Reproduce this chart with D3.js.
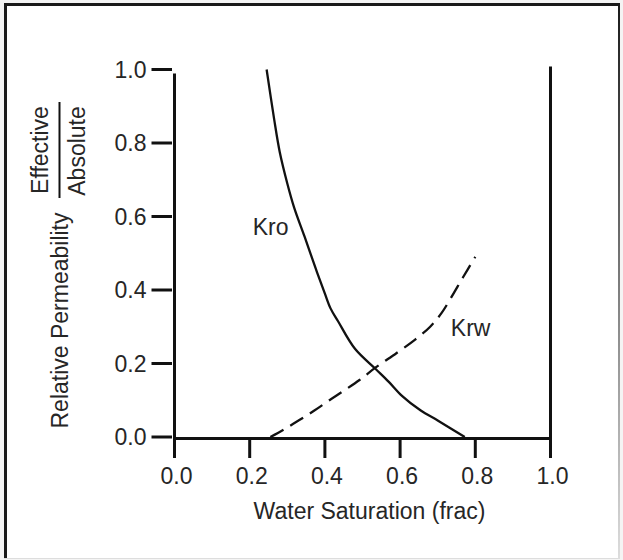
<!DOCTYPE html>
<html>
<head>
<meta charset="utf-8">
<script src="https://cdn.jsdelivr.net/npm/d3@7"></script>
<style>
  html, body { margin: 0; padding: 0; background: #ffffff; }
  svg { display: block; }
  text { font-family: "Liberation Sans", Arial, Helvetica, sans-serif; fill: #262626; }
</style>
</head>
<body>
<svg id="chart" width="623" height="560"></svg>
<script>
// ---- data ----
const xTicks = [0.0, 0.2, 0.4, 0.6, 0.8, 1.0];
const yTicks = [0.0, 0.2, 0.4, 0.6, 0.8, 1.0];
const xTickLabels = ["0.0", "0.2", "0.4", "0.6", "0.8", "1.0"];
const yTickLabels = ["0.0", "0.2", "0.4", "0.6", "0.8", "1.0"];

// Kro (oil relative permeability) – solid
const kroSw = [0.245, 0.265, 0.28, 0.30, 0.318, 0.346, 0.375, 0.40, 0.415, 0.435, 0.48, 0.535, 0.57, 0.605, 0.655, 0.70, 0.772];
const kroK  = [1.00, 0.865, 0.775, 0.69, 0.625, 0.545, 0.46, 0.39, 0.35, 0.315, 0.24, 0.185, 0.15, 0.112, 0.072, 0.045, 0.0];

// Krw (water relative permeability) – dashed
const krwSw = [0.255, 0.29, 0.332, 0.372, 0.412, 0.452, 0.492, 0.536, 0.59, 0.64, 0.68, 0.71, 0.735, 0.767, 0.80];
const krwK  = [0.0, 0.02, 0.046, 0.072, 0.10, 0.127, 0.155, 0.19, 0.228, 0.265, 0.30, 0.337, 0.378, 0.434, 0.49];

const xTitle = "Water Saturation (frac)";
const yTitle = "Relative Permeability";
const fracTop = "Effective";
const fracBottom = "Absolute";
const curveLabels = [
  { name: "Kro", sw: 0.208, k: 0.55 },
  { name: "Krw", sw: 0.735, k: 0.275 }
];

// ---- drawing ----
const svg = d3.select("#chart");
const W = 623, H = 560;
const ink = "#111111";
const fs = 23;

// frame
svg.append("rect").attr("x", 0).attr("y", 0).attr("width", W).attr("height", H).attr("fill", "#f4f4f4");
svg.append("rect").attr("x", 4).attr("y", 3).attr("width", 616).attr("height", 556).attr("fill", "#ffffff");
const grad = svg.append("defs").append("linearGradient").attr("id", "rg").attr("x1", 0).attr("x2", 0).attr("y1", 0).attr("y2", 1);
grad.append("stop").attr("offset", "0%").attr("stop-color", "#1a1a1a");
grad.append("stop").attr("offset", "100%").attr("stop-color", "#dddddd");
svg.append("rect").attr("x", 4).attr("y", 3).attr("width", 616).attr("height", 3).attr("fill", "#1a1a1a");
svg.append("rect").attr("x", 4).attr("y", 3).attr("width", 3).attr("height", 556).attr("fill", "#1a1a1a");
svg.append("rect").attr("x", 618).attr("y", 3).attr("width", 2).attr("height", 556).attr("fill", "url(#rg)");
svg.append("rect").attr("x", 4).attr("y", 558).attr("width", 616).attr("height", 1).attr("fill", "#dddddd");

const x = d3.scaleLinear().domain([0, 1]).range([174.5, 550.5]);
const y = d3.scaleLinear().domain([0, 1]).range([437, 69.5]);

const g = svg.append("g");

// x axis baseline
g.append("line")
  .attr("x1", x(0)).attr("x2", x(1))
  .attr("y1", y(0) + 1.5).attr("y2", y(0) + 1.5)
  .attr("stroke", ink).attr("stroke-width", 3);

// left axis line
g.append("line")
  .attr("x1", x(0)).attr("x2", x(0))
  .attr("y1", y(1) + 4).attr("y2", y(0) + 21)
  .attr("stroke", ink).attr("stroke-width", 3);

// right line
g.append("line")
  .attr("x1", x(1)).attr("x2", x(1))
  .attr("y1", y(1) - 3).attr("y2", y(0) + 21)
  .attr("stroke", ink).attr("stroke-width", 3);

// x ticks (inner)
g.selectAll(".xt").data(xTicks.slice(1, -1)).enter().append("line")
  .attr("x1", d => x(d)).attr("x2", d => x(d))
  .attr("y1", y(0) + 1.5).attr("y2", y(0) + 21)
  .attr("stroke", ink).attr("stroke-width", 3);

// x tick labels
g.selectAll(".xl").data(xTicks).enter().append("text")
  .attr("x", d => x(d) + 2).attr("y", y(0) + 47)
  .attr("text-anchor", "middle").attr("font-size", fs)
  .text((d, i) => xTickLabels[i]);

// y ticks
g.selectAll(".yt").data(yTicks).enter().append("line")
  .attr("x1", x(0) - 23).attr("x2", x(0) - 2.5)
  .attr("y1", d => y(d)).attr("y2", d => y(d))
  .attr("stroke", ink).attr("stroke-width", 3);

// y tick labels
g.selectAll(".yl").data(yTicks).enter().append("text")
  .attr("x", x(0) - 28).attr("y", d => y(d))
  .attr("dy", "0.36em")
  .attr("text-anchor", "end").attr("font-size", fs)
  .text((d, i) => yTickLabels[i]);

// x title
g.append("text")
  .attr("x", (x(0) + x(1)) / 2 + 7).attr("y", 519)
  .attr("text-anchor", "middle").attr("font-size", fs)
  .text(xTitle);

// y title
g.append("text")
  .attr("transform", "translate(68,320.5) rotate(-90)")
  .attr("text-anchor", "middle").attr("font-size", fs)
  .text(yTitle);

// fraction
g.append("text")
  .attr("transform", "translate(47.5,150) rotate(-90)")
  .attr("text-anchor", "middle").attr("font-size", fs)
  .text(fracTop);
g.append("text")
  .attr("transform", "translate(84.5,151) rotate(-90)")
  .attr("text-anchor", "middle").attr("font-size", fs)
  .text(fracBottom);
g.append("line")
  .attr("x1", 59.5).attr("x2", 59.5).attr("y1", 102).attr("y2", 198)
  .attr("stroke", ink).attr("stroke-width", 2);

// curves
const line = d3.line().x(d => x(d[0])).y(d => y(d[1])).curve(d3.curveCatmullRom.alpha(0.5));

g.append("path")
  .datum(kroSw.map((s, i) => [s, kroK[i]]))
  .attr("d", line)
  .attr("fill", "none").attr("stroke", ink).attr("stroke-width", 2.3);

g.append("path")
  .datum(krwSw.map((s, i) => [s, krwK[i]]))
  .attr("d", line)
  .attr("fill", "none").attr("stroke", ink).attr("stroke-width", 2.3)
  .attr("stroke-dasharray", "15,8");

// curve labels
g.selectAll(".cl").data(curveLabels).enter().append("text")
  .attr("x", d => x(d.sw)).attr("y", d => y(d.k))
  .attr("font-size", fs)
  .text(d => d.name);
</script>
</body>
</html>
